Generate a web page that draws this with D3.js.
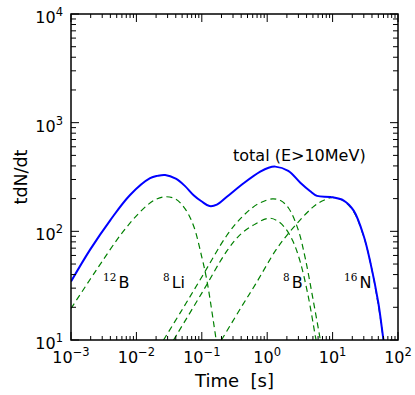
<!DOCTYPE html>
<html>
<head>
<meta charset="utf-8">
<script src="https://cdn.jsdelivr.net/npm/d3@7/dist/d3.min.js"></script>
<style>
body { margin: 0; background: #fff; }
text { font-family: "DejaVu Sans", sans-serif; fill: #000; }
.iso { font-family: "DejaVu Serif", serif; }
</style>
</head>
<body>
<div id="chart"></div>
<script>
// values: time [s] and t*dN/dt
var totalT = [0.001, 0.00195, 0.004, 0.008, 0.0162, 0.021, 0.0275, 0.04, 0.055, 0.075, 0.1, 0.131, 0.17, 0.242, 0.436, 0.783, 1.05, 1.33, 2.1, 3.21, 4.5, 5.78, 9.25, 14.8, 21, 30, 38, 50, 60, 66];
var totalV = [34.5, 67.5, 127, 216, 308, 324, 330, 305, 262, 215, 188, 171, 176, 208, 277, 354, 385, 394, 360, 280, 235, 212, 207, 192, 155, 90, 51, 22, 10, 7];

var b12T = [0.001, 0.002, 0.003, 0.005, 0.007, 0.01, 0.015, 0.02, 0.028, 0.04, 0.056, 0.075, 0.1, 0.12, 0.15, 0.175];
var b12V = [19.5, 36.8, 53, 83, 108, 139, 176, 197, 208, 198, 160, 112, 58, 35, 15, 8];

var li8T = [0.026, 0.05, 0.1, 0.242, 0.4, 0.6, 0.8, 1.2, 1.6, 2.13, 3.0, 3.83, 5.0, 6.5, 7.2];
var li8V = [10, 19, 38, 92, 133, 166, 184, 199, 192, 163, 102, 56, 24, 10, 7];

var b8T = [0.037, 0.1, 0.242, 0.4, 0.66, 1.05, 1.4, 1.89, 2.5, 3.21, 4.2, 5.5, 6];
var b8V = [10, 27, 66, 95, 117, 132, 126, 107, 80, 52, 26, 10.5, 8];

var n16T = [0.2, 0.4, 0.66, 1.33, 2, 3.03, 5, 6.9, 10, 14.8, 21, 30, 38, 50, 60, 65];
var n16V = [10, 20, 32.5, 66, 92, 123, 167, 190, 205, 190, 152, 89, 51, 21, 10, 7];

var xTicks = [-3, -2, -1, 0, 1, 2];
var yTicks = [1, 2, 3, 4];

var W = 415, H = 395;
var margin = {top: 14, right: 17, bottom: 55, left: 71};

var x = d3.scaleLog().domain([1e-3, 1e2]).range([margin.left, W - margin.right]);
var y = d3.scaleLog().domain([10, 1e4]).range([H - margin.bottom, margin.top]);

var svg = d3.select("#chart").append("svg")
    .attr("width", W)
    .attr("height", H);

svg.append("clipPath").attr("id", "clip")
  .append("rect")
    .attr("x", margin.left).attr("y", margin.top)
    .attr("width", x.range()[1] - margin.left)
    .attr("height", y.range()[0] - margin.top);

var line = d3.line()
    .x(function(d) { return x(d[0]); })
    .y(function(d) { return y(d[1]); })
    .curve(d3.curveCatmullRom.alpha(0.5));

var plot = svg.append("g").attr("clip-path", "url(#clip)");

// dashed components
[[b12T, b12V], [li8T, li8V], [b8T, b8V], [n16T, n16V]].forEach(function(s) {
  plot.append("path")
      .datum(d3.zip(s[0], s[1]))
      .attr("d", line)
      .attr("fill", "none")
      .attr("stroke", "#008000")
      .attr("stroke-width", 1.2)
      .attr("stroke-dasharray", "6,4");
});

plot.append("path")
    .datum(d3.zip(totalT, totalV))
    .attr("d", line)
    .attr("fill", "none")
    .attr("stroke", "#0000ff")
    .attr("stroke-width", 2);

// ticks, inward on all four sides
var x0 = x.range()[0], x1 = x.range()[1], y0 = y.range()[0], y1 = y.range()[1];
var tk = svg.append("g").attr("stroke", "#000").attr("stroke-width", 1);

function minors(lo, hi) {
  var out = [];
  for (var e = lo; e < hi; e++)
    for (var m = 2; m <= 9; m++) out.push(m * Math.pow(10, e));
  return out;
}

xTicks.forEach(function(e) {
  var px = x(Math.pow(10, e));
  tk.append("line").attr("x1", px).attr("x2", px).attr("y1", y0).attr("y2", y0 - 8);
  tk.append("line").attr("x1", px).attr("x2", px).attr("y1", y1).attr("y2", y1 + 8);
});
minors(-3, 2).forEach(function(v) {
  var px = x(v);
  tk.append("line").attr("x1", px).attr("x2", px).attr("y1", y0).attr("y2", y0 - 4);
  tk.append("line").attr("x1", px).attr("x2", px).attr("y1", y1).attr("y2", y1 + 4);
});
yTicks.forEach(function(e) {
  var py = y(Math.pow(10, e));
  tk.append("line").attr("x1", x0).attr("x2", x0 + 8).attr("y1", py).attr("y2", py);
  tk.append("line").attr("x1", x1).attr("x2", x1 - 8).attr("y1", py).attr("y2", py);
});
minors(1, 4).forEach(function(v) {
  var py = y(v);
  tk.append("line").attr("x1", x0).attr("x2", x0 + 5).attr("y1", py).attr("y2", py);
  tk.append("line").attr("x1", x1).attr("x2", x1 - 5).attr("y1", py).attr("y2", py);
});

svg.append("rect")
    .attr("x", x0).attr("y", y1)
    .attr("width", x1 - x0).attr("height", y0 - y1)
    .attr("fill", "none")
    .attr("stroke", "#000")
    .attr("stroke-width", 1.5);

function powLabel(sel, e) {
  sel.append("tspan").text("10");
  sel.append("tspan").attr("dy", -7).attr("font-size", 11.5)
     .text(e < 0 ? "\u2212" + (-e) : e);
}

xTicks.forEach(function(e) {
  var t = svg.append("text")
      .attr("x", x(Math.pow(10, e)))
      .attr("y", 363)
      .attr("text-anchor", "middle")
      .attr("font-size", 16);
  powLabel(t, e);
});
yTicks.forEach(function(e) {
  var t = svg.append("text")
      .attr("x", 63)
      .attr("y", y(Math.pow(10, e)) + 9)
      .attr("text-anchor", "end")
      .attr("font-size", 16);
  powLabel(t, e);
});

svg.append("text")
    .attr("x", (x0 + x1) / 2)
    .attr("y", 387)
    .attr("text-anchor", "middle")
    .attr("font-size", 18)
    .attr("xml:space", "preserve")
    .text("Time  [s]");

svg.append("text")
    .attr("transform", "translate(27," + ((y0 + y1) / 2) + ") rotate(-90)")
    .attr("text-anchor", "middle")
    .attr("font-size", 17.5)
    .text("tdN/dt");

svg.append("text")
    .attr("x", 233)
    .attr("y", 161)
    .attr("font-size", 16)
    .text("total (E>10MeV)");

// isotope labels
var isoLabels = [["12", "B", 103], ["8", "Li", 163], ["8", "B", 283], ["16", "N", 344]];
isoLabels.forEach(function(l) {
  var t = svg.append("text").attr("x", l[2]).attr("y", 288).attr("font-size", 16);
  t.append("tspan").attr("class", "iso").attr("font-size", 10.5).attr("dy", -7).text(l[0]);
  t.append("tspan").attr("dy", 7).attr("dx", 2).text(l[1]);
});
</script>
</body>
</html>
